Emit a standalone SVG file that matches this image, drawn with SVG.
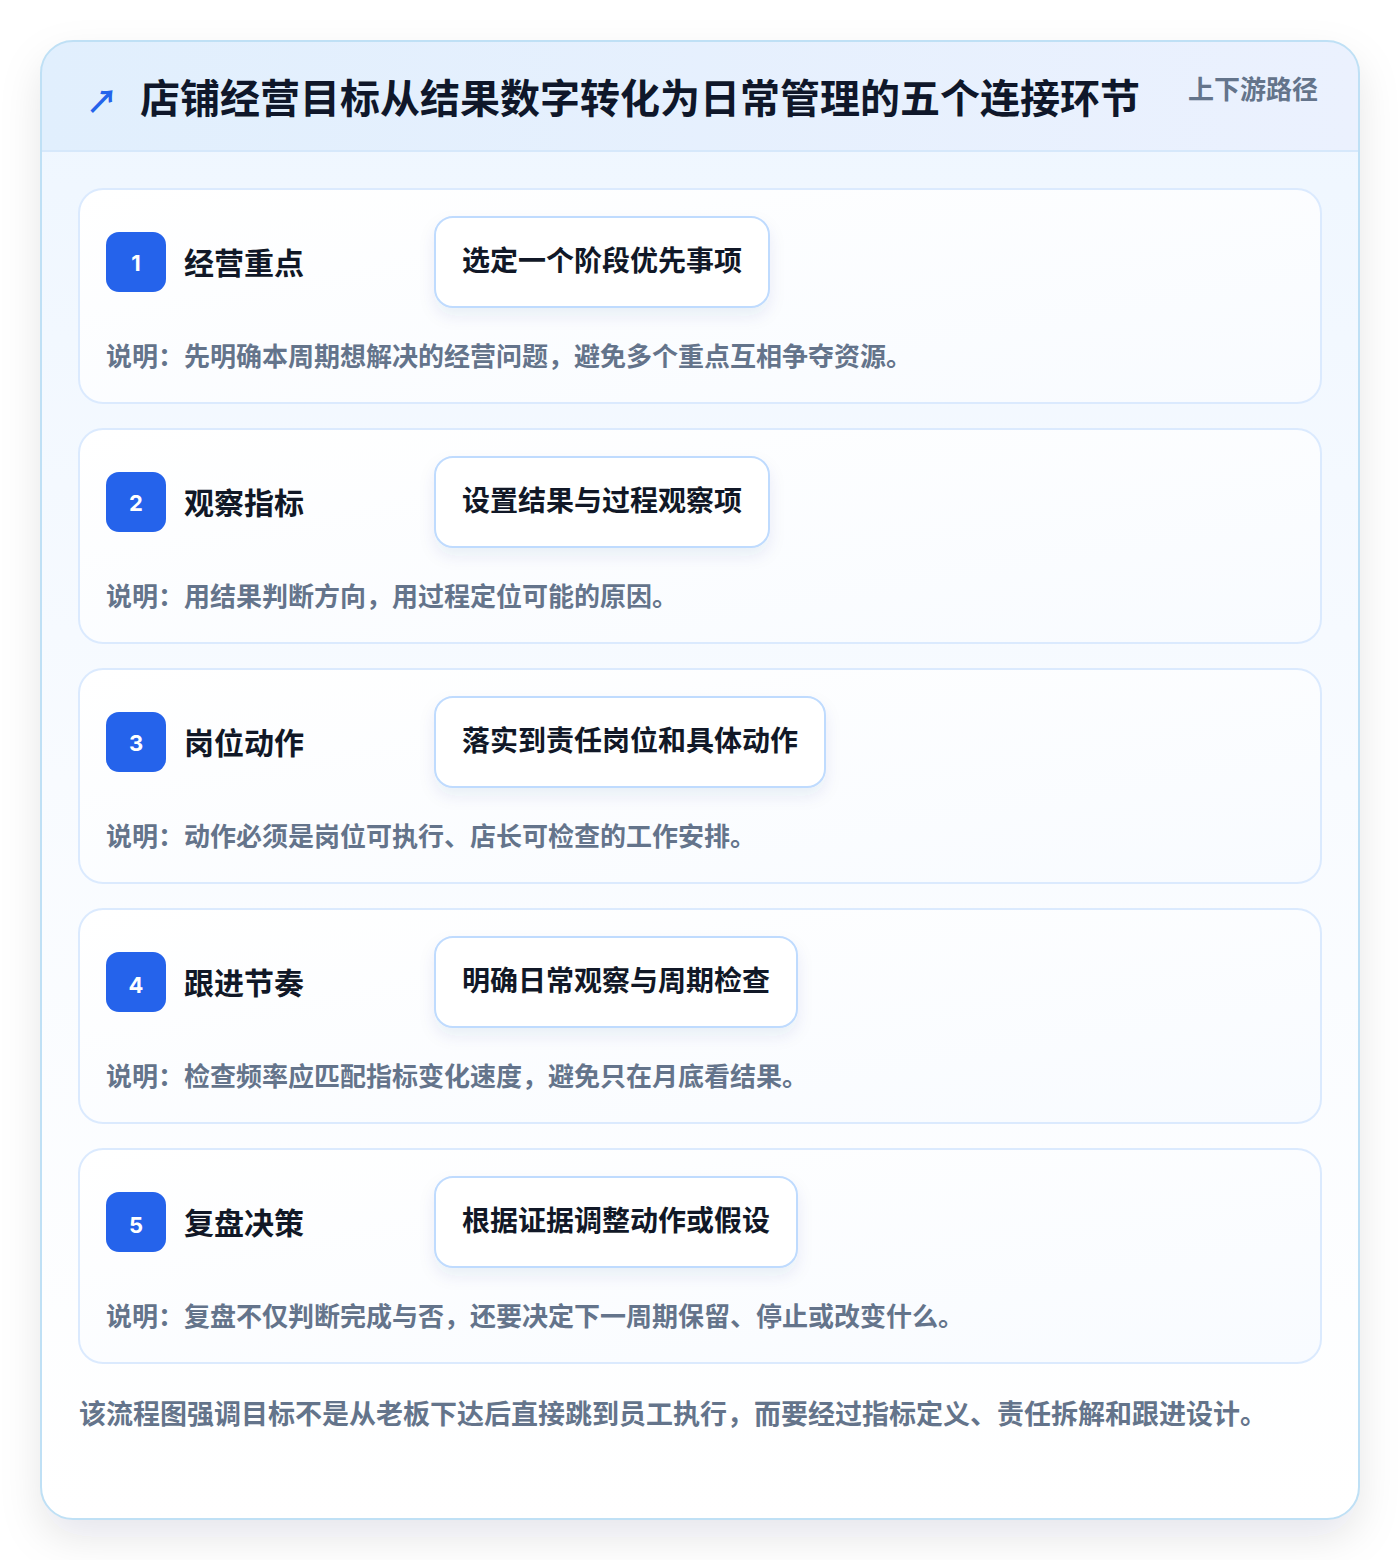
<svg xmlns="http://www.w3.org/2000/svg" width="1400" height="1560" viewBox="0 0 1400 1560">
<defs>
<style>
text{font-family:"Noto Sans CJK SC","Noto Sans",sans-serif;font-weight:700}
.card{fill:url(#cardG);stroke:#dbeafe;stroke-width:2}
.badge{fill:#2563eb}
.num{fill:#ffffff;font-size:22px;text-anchor:middle;font-family:"Inter","Noto Sans",sans-serif}
.lbl{fill:#111827;font-size:30px}
.pill{fill:#ffffff;stroke:#bfdbfe;stroke-width:2}
.ptx{fill:#111827;font-size:28px}
.desc{fill:#64748b;font-size:26px}
</style>
<linearGradient id="headG" x1="0" y1="0" x2="1" y2="0">
<stop offset="0" stop-color="#e1effd"/>
<stop offset="1" stop-color="#ebf1fe"/>
</linearGradient>
<linearGradient id="bodyG" x1="0" y1="0" x2="0" y2="1">
<stop offset="0" stop-color="#eef6ff"/>
<stop offset="0.5" stop-color="#f8fbff"/>
<stop offset="1" stop-color="#ffffff"/>
</linearGradient>
<linearGradient id="cardG" x1="0" y1="0" x2="1" y2="1">
<stop offset="0" stop-color="#ffffff"/>
<stop offset="1" stop-color="#f8fbff"/>
</linearGradient>
<filter id="outerSh" x="-10%" y="-10%" width="120%" height="120%">
<feDropShadow dx="0" dy="18" stdDeviation="20" flood-color="#0f172a" flood-opacity="0.10"/>
</filter>
<filter id="pillSh" x="-20%" y="-30%" width="140%" height="180%">
<feDropShadow dx="0" dy="8" stdDeviation="8" flood-color="#1e3a8a" flood-opacity="0.08"/>
</filter>
<clipPath id="outerClip"><rect x="41" y="41" width="1318" height="1478" rx="32"/></clipPath>
</defs>
<rect width="1400" height="1560" fill="#ffffff"/>
<g id="frame">
<rect x="41" y="41" width="1318" height="1478" rx="32" fill="url(#bodyG)" filter="url(#outerSh)"/>
<g clip-path="url(#outerClip)">
<rect x="41" y="41" width="1318" height="110" fill="url(#headG)"/>
<line x1="41" y1="151" x2="1359" y2="151" stroke="#d6e8fb" stroke-width="2"/>
</g>
<rect x="41" y="41" width="1318" height="1478" rx="32" fill="none" stroke="#bfe0f5" stroke-width="2"/>
</g>
<g id="header">
<text x="86" y="113" font-size="32" fill="#2563eb" font-family="DejaVu Sans, sans-serif" font-weight="400">↗</text>
<text x="140" y="113" font-size="40" fill="#0f172a">店铺经营目标从结果数字转化为日常管理的五个连接环节</text>
<text x="1188" y="99" font-size="26" fill="#64748b">上下游路径</text>
</g>
<g id="connectors"></g>
<g id="step1">
<rect class="card" x="79" y="189" width="1242" height="214" rx="24"/>
<rect class="badge" x="106" y="232" width="60" height="60" rx="13"/>
<text class="num" x="136" y="271">1</text>
<text class="lbl" x="184" y="274">经营重点</text>
<rect class="pill" x="435" y="217" width="334" height="90" rx="18" filter="url(#pillSh)"/>
<text class="ptx" x="462" y="271">选定一个阶段优先事项</text>
<text class="desc" x="106" y="366">说明：先明确本周期想解决的经营问题，避免多个重点互相争夺资源。</text>
</g>
<g id="step2">
<rect class="card" x="79" y="429" width="1242" height="214" rx="24"/>
<rect class="badge" x="106" y="472" width="60" height="60" rx="13"/>
<text class="num" x="136" y="511">2</text>
<text class="lbl" x="184" y="514">观察指标</text>
<rect class="pill" x="435" y="457" width="334" height="90" rx="18" filter="url(#pillSh)"/>
<text class="ptx" x="462" y="511">设置结果与过程观察项</text>
<text class="desc" x="106" y="606">说明：用结果判断方向，用过程定位可能的原因。</text>
</g>
<g id="step3">
<rect class="card" x="79" y="669" width="1242" height="214" rx="24"/>
<rect class="badge" x="106" y="712" width="60" height="60" rx="13"/>
<text class="num" x="136" y="751">3</text>
<text class="lbl" x="184" y="754">岗位动作</text>
<rect class="pill" x="435" y="697" width="390" height="90" rx="18" filter="url(#pillSh)"/>
<text class="ptx" x="462" y="751">落实到责任岗位和具体动作</text>
<text class="desc" x="106" y="846">说明：动作必须是岗位可执行、店长可检查的工作安排。</text>
</g>
<g id="step4">
<rect class="card" x="79" y="909" width="1242" height="214" rx="24"/>
<rect class="badge" x="106" y="952" width="60" height="60" rx="13"/>
<text class="num" x="136" y="993">4</text>
<text class="lbl" x="184" y="994">跟进节奏</text>
<rect class="pill" x="435" y="937" width="362" height="90" rx="18" filter="url(#pillSh)"/>
<text class="ptx" x="462" y="991">明确日常观察与周期检查</text>
<text class="desc" x="106" y="1086">说明：检查频率应匹配指标变化速度，避免只在月底看结果。</text>
</g>
<g id="step5">
<rect class="card" x="79" y="1149" width="1242" height="214" rx="24"/>
<rect class="badge" x="106" y="1192" width="60" height="60" rx="13"/>
<text class="num" x="136" y="1233">5</text>
<text class="lbl" x="184" y="1234">复盘决策</text>
<rect class="pill" x="435" y="1177" width="362" height="90" rx="18" filter="url(#pillSh)"/>
<text class="ptx" x="462" y="1231">根据证据调整动作或假设</text>
<text class="desc" x="106" y="1326">说明：复盘不仅判断完成与否，还要决定下一周期保留、停止或改变什么。</text>
</g>
<g id="footer">
<text x="79" y="1424" font-size="27" fill="#64748b">该流程图强调目标不是从老板下达后直接跳到员工执行，而要经过指标定义、责任拆解和跟进设计。</text>
</g>
</svg>
